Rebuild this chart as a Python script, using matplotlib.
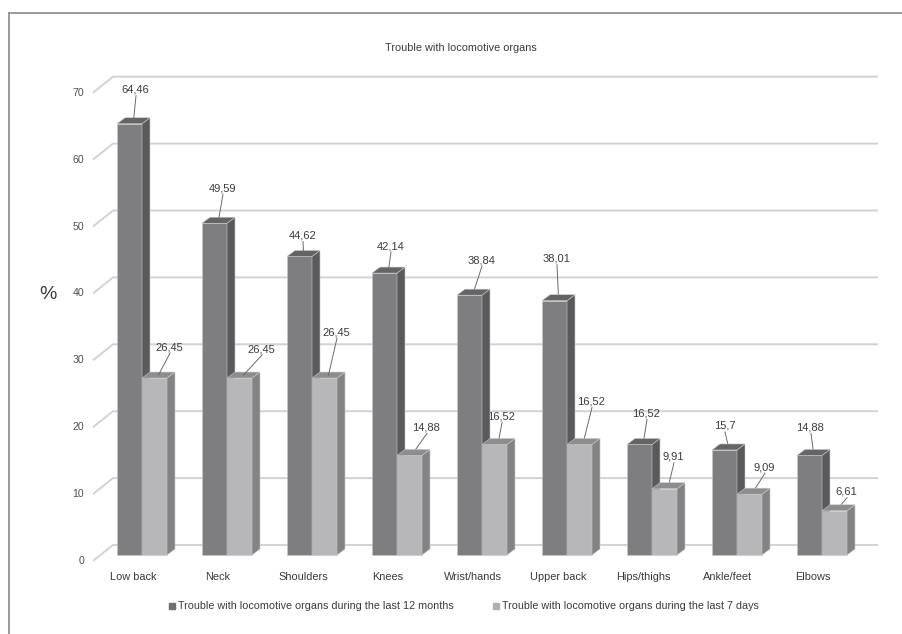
import matplotlib
matplotlib.use("Agg")
import matplotlib.pyplot as plt
from matplotlib.patches import Polygon
from matplotlib.lines import Line2D

# ---------------- data ----------------
categories = ["Low back", "Neck", "Shoulders", "Knees", "Wrist/hands",
              "Upper back", "Hips/thighs", "Ankle/feet", "Elbows"]
months12 = [64.46, 49.59, 44.62, 42.14, 38.84, 38.01, 16.52, 15.7, 14.88]
days7 = [26.45, 26.45, 26.45, 14.88, 16.52, 16.52, 9.91, 9.09, 6.61]
label12 = ["64,46", "49,59", "44,62", "42,14", "38,84", "38,01", "16,52", "15,7", "14,88"]
label7 = ["26,45", "26,45", "26,45", "14,88", "16,52", "16,52", "9,91", "9,09", "6,61"]
yticks = [0, 10, 20, 30, 40, 50, 60, 70]
title = "Trouble with locomotive organs"
series_names = ["Trouble with locomotive organs during the last 12 months",
                "Trouble with locomotive organs during the last 7 days"]

# ---------------- layout (pixels) ----------------
W, H = 903, 634
PX_X = 85.0      # px per category
PX_Y = 6.69      # px per value unit
X0PX = 142.0     # pixel x of first group centre
Y0PX = 555.0     # pixel y (from top) of bar bottom
# label offsets (px) relative to bar front-top centre
off12 = [(6, -34), (8, -35), (3, -21), (6, -27), (12, -35), (2, -42), (7, -31), (0, -24), (1, -28)]
off7 = [(15, -31), (22, -29), (12, -46), (17, -28), (7, -28), (12, -43), (9, -32), (15, -27), (12, -19)]

def dxp(px):
    return px / PX_X

def dyp(px):
    return px / PX_Y

fig = plt.figure(figsize=(W / 100, H / 100), dpi=100)
ax = fig.add_axes([0, 0, 1, 1])
ax.set_xlim(-X0PX / PX_X, (W - X0PX) / PX_X)
ax.set_ylim(-(H - Y0PX) / PX_Y, Y0PX / PX_Y)
ax.axis("off")

FONT = ["Liberation Sans", "DejaVu Sans"]
TXT = "#3a3a3a"

# walls / grid
back_dx, back_dy = dxp(113 - X0PX), dyp(10)
front_dx, front_dy = dxp(93 - X0PX), -dyp(6)
right_x = dxp(878 - X0PX)
for v in yticks:
    ax.plot([front_dx, back_dx, right_x], [v + front_dy, v + back_dy, v + back_dy],
            color="#d2d2d2", lw=1.4, zorder=1, solid_capstyle="butt")
    ax.text(dxp(84 - X0PX), v + front_dy, str(v), ha="right", va="center",
            fontsize=7.6, color="#505050", family=FONT)

ax.text(dxp(48 - X0PX), 70 - dyp(294 - 92) + front_dy, "%", ha="center", va="center",
        fontsize=14, color=TXT, family=FONT)

bw = dxp(25)
ddx, ddy = dxp(8), dyp(6)

def bar3d(x0, v, front, side, top, z):
    ax.add_patch(Polygon([(x0, 0), (x0 + bw, 0), (x0 + bw, v), (x0, v)], closed=True,
                         facecolor=front, edgecolor="#c8c8c8", lw=0.4, zorder=z))
    ax.add_patch(Polygon([(x0 + bw, 0), (x0 + bw + ddx, ddy), (x0 + bw + ddx, v + ddy), (x0 + bw, v)],
                         closed=True, facecolor=side, edgecolor="#c8c8c8", lw=0.4, zorder=z))
    ax.add_patch(Polygon([(x0, v), (x0 + bw, v), (x0 + bw + ddx, v + ddy), (x0 + ddx, v + ddy)],
                         closed=True, facecolor=top, edgecolor="#c8c8c8", lw=0.4, zorder=z))

def vlabel(xc, v, text, off):
    lx, ly = xc + dxp(off[0]), v - dyp(off[1])
    ax.text(lx, ly, text, ha="center", va="center", fontsize=8.0, color=TXT, family=FONT, zorder=10)
    ax.plot([lx + dxp(0.5), xc + ddx / 2], [ly - dyp(6), v + ddy / 2], color="#6a6a6a", lw=0.7, zorder=9)

for i, cat in enumerate(categories):
    bar3d(i - bw, months12[i], "#7e7e80", "#5a5a5c", "#646466", 3 + i * 2)
    bar3d(i, days7[i], "#b7b7b9", "#838385", "#8d8d8f", 4 + i * 2)
    vlabel(i - bw / 2, months12[i], label12[i], off12[i])
    vlabel(i + bw / 2, days7[i], label7[i], off7[i])
    ax.text(i - dxp(9), -dyp(577 - Y0PX), cat, ha="center", va="center",
            fontsize=7.9, color=TXT, family=FONT)

# title
ax.text(dxp(461 - X0PX), dyp(Y0PX - 48), title, ha="center", va="center",
        fontsize=7.8, color=TXT, family=FONT)

# legend
ly = -dyp(606 - Y0PX)
for sx, name, col in [(172, series_names[0], "#6e6e70"), (496, series_names[1], "#b0b0b2")]:
    ax.plot([dxp(sx - X0PX)], [ly], marker="s", ms=4.3, color=col, mec=col, ls="none")
    ax.text(dxp(sx + 6 - X0PX), ly, name, ha="left", va="center", fontsize=7.75, color=TXT, family=FONT)

# frame (top and left only)
fig.add_artist(Line2D([9 / W, 1], [1 - 13 / H, 1 - 13 / H], color="#8a8a8a", lw=1.2))
fig.add_artist(Line2D([9 / W, 9 / W], [0, 1 - 13 / H], color="#8a8a8a", lw=1.2))

fig.savefig("out.png", dpi=100)
